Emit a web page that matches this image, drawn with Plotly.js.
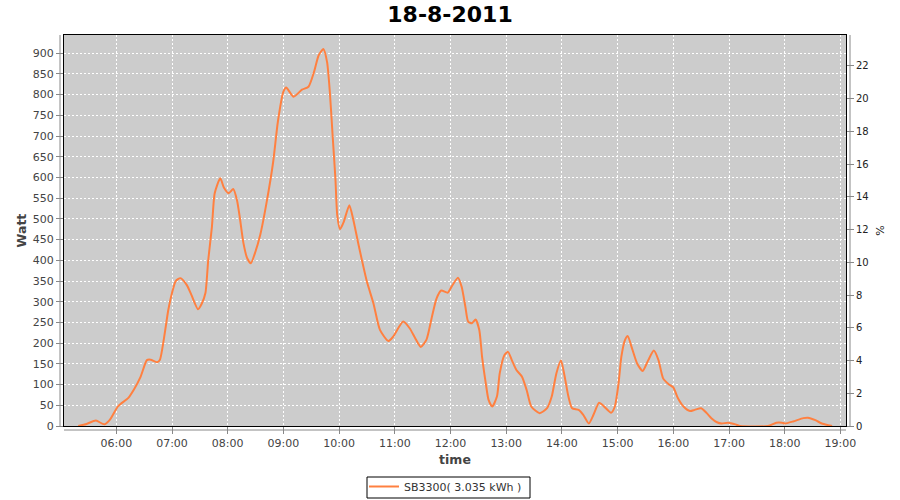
<!DOCTYPE html>
<html>
<head>
<meta charset="utf-8">
<script src="https://cdn.plot.ly/plotly-3.0.1.min.js"></script>
<style>html,body{margin:0;padding:0;background:#fff;}#chart{width:900px;height:500px;}</style>
</head>
<body>
<div id="chart"></div>
<script>
const day = "2011-08-18";
const times = ["05:19","05:28","05:38","05:47","05:53","06:02","06:13","06:19","06:26","06:33","06:37","06:44","06:47","06:56","07:00","07:04","07:09","07:16","07:21","07:28","07:32","07:36","07:39","07:43","07:46","07:52","07:56","08:01","08:06","08:10","08:13","08:17","08:21","08:25","08:29","08:35","08:42","08:49","08:54","09:00","09:03","09:11","09:20","09:27","09:33","09:38","09:43","09:47","09:50","09:53","09:56","09:58","10:01","10:05","10:11","10:15","10:21","10:30","10:37","10:44","10:53","10:58","11:09","11:16","11:22","11:28","11:34","11:40","11:45","11:50","11:57","12:01","12:08","12:12","12:16","12:19","12:23","12:27","12:31","12:34","12:38","12:41","12:45","12:50","12:53","12:58","13:02","13:06","13:11","13:17","13:22","13:27","13:36","13:44","13:49","13:54","13:59","14:03","14:07","14:11","14:18","14:23","14:29","14:34","14:40","14:45","14:53","14:57","15:01","15:04","15:08","15:11","15:15","15:21","15:27","15:33","15:39","15:44","15:49","15:55","16:00","16:05","16:11","16:18","16:23","16:30","16:36","16:41","16:47","16:52","16:59","17:07","17:12","17:42","17:51","17:57","18:00","18:09","18:20","18:25","18:33","18:40","18:47","18:51"];
const watt = [0,5,13,4,15,48,68,88,118,159,160,154,160,280,321,350,357,340,316,282,295,321,400,481,562,598,575,562,572,545,504,441,405,393,415,461,541,638,734,807,817,795,812,819,855,895,910,879,807,702,598,509,475,493,533,501,437,348,296,232,205,215,252,236,212,191,208,264,308,327,322,336,358,336,288,252,248,257,232,167,103,63,47,71,127,171,179,159,135,119,87,47,31,43,71,127,158,119,71,43,39,27,6,27,56,48,32,47,103,167,208,217,191,151,133,159,182,159,115,101,93,67,47,36,39,43,31,19,9,6,8,4,0,0,8,8,6,11,19,20,14,6,2,0];
const seriesName = "SB3300( 3.035 kWh )";
const chartTitle = "18-8-2011";
const xTitle = "time";
const yTitle = "Watt";
const y2Title = "%";

const x = times.map(t => day + " " + t);
const fontFam = "DejaVu Sans, sans-serif";

const trace = {
  x: x, y: watt, type: "scatter", mode: "lines", name: seriesName,
  line: {color: "#ff8040", width: 2, shape: "spline", smoothing: 0.6},
  hoverinfo: "x+y"
};
// carrier trace so the right-hand % axis is drawn (no visible mark)
const axisCarrier = {
  x: [x[0]], y: [null], yaxis: "y2", type: "scatter", mode: "lines",
  showlegend: false, hoverinfo: "skip", line: {width: 0}
};

const layout = {
  width: 900, height: 500,
  margin: {l: 64, r: 54, t: 35, b: 74},
  paper_bgcolor: "#ffffff",
  plot_bgcolor: "#cccccc",
  title: {text: chartTitle, font: {family: fontFam, size: 22, color: "#000", weight: "bold"}, x: 0.5, xanchor: "center", y: 0.972, yanchor: "middle"},
  showlegend: true,
  legend: {orientation: "h", x: 364/900, xref: "container", xanchor: "left", yref: "container", y: 0.056, yanchor: "top",
           borderwidth: 0, font: {family: fontFam, size: 11, color: "#333"}, bgcolor: "rgba(0,0,0,0)",
           itemwidth: 30, tracegroupgap: 0},
  xaxis: {
    type: "date", range: [day + " 05:03:40", day + " 19:06:00"],
    tickformat: "%H:%M", dtick: 3600000, tick0: day + " 06:00",
    showgrid: true, gridcolor: "#ffffff", griddash: "2px,2px", gridwidth: 1,
    showline: true, linecolor: "#000", linewidth: 1, mirror: true,
    ticks: "outside", ticklen: 7, tickcolor: "#888",
    tickfont: {family: fontFam, size: 11, color: "#444"},
    title: {text: xTitle, font: {family: fontFam, size: 12.5, color: "#444", weight: "bold"}, standoff: 6},
    zeroline: false, automargin: false
  },
  yaxis: {
    range: [0, 944], dtick: 50, tick0: 0,
    showgrid: true, gridcolor: "#ffffff", griddash: "2px,2px", gridwidth: 1,
    showline: true, linecolor: "#000", linewidth: 1, mirror: true,
    ticks: "outside", ticklen: 7, tickcolor: "#888",
    tickfont: {family: fontFam, size: 11, color: "#444"},
    title: {text: yTitle, font: {family: fontFam, size: 12.5, color: "#444", weight: "bold"}, standoff: 3},
    zeroline: false, automargin: false
  },
  yaxis2: {
    overlaying: "y", side: "right", anchor: "x",
    range: [0, 23.89], dtick: 2, tick0: 0,
    showgrid: false, zeroline: false, showline: false,
    ticks: "outside", ticklen: 7, tickcolor: "#888",
    tickfont: {family: fontFam, size: 10, color: "#222"},
    title: {text: y2Title, font: {family: fontFam, size: 11, color: "#222"}, standoff: 8},
    automargin: false
  },
  shapes: [
    {type: "line", xref: "paper", yref: "paper", x0: -4/782, x1: -4/782, y0: 0, y1: 1, line: {color: "#888", width: 1}},
    {type: "line", xref: "paper", yref: "paper", x0: 1 + 4/782, x1: 1 + 4/782, y0: 0, y1: 1, line: {color: "#888", width: 1}},
    {type: "line", xref: "paper", yref: "paper", x0: 0, x1: 1, y0: -4/391, y1: -4/391, line: {color: "#888", width: 1}},
    // legend frame
    {type: "rect", xref: "paper", yref: "paper", x0: (367-64)/782, x1: (530-64)/782, y0: (426-477)/391, y1: (426-498)/391,
     line: {color: "#000", width: 1}, fillcolor: "rgba(0,0,0,0)"}
  ]
};

Plotly.newPlot("chart", [trace, axisCarrier], layout, {displayModeBar: false, staticPlot: true});
</script>
</body>
</html>
